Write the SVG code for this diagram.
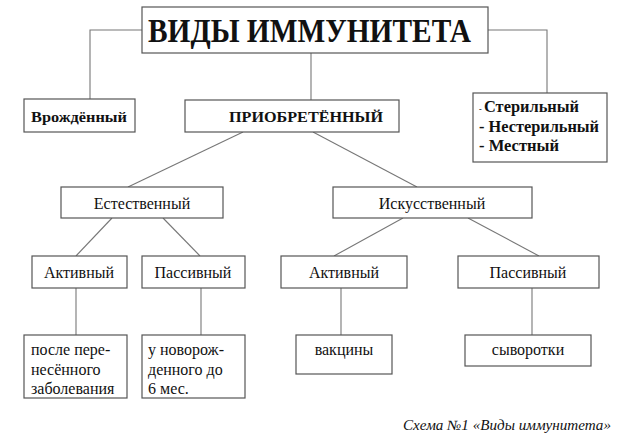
<svg xmlns="http://www.w3.org/2000/svg" width="624" height="438" viewBox="0 0 624 438" font-family="'Liberation Serif','Times New Roman','DejaVu Serif',serif">
<style>
.box{fill:#fff;stroke:#555;stroke-width:1.2}
.ln{fill:none;stroke:#777;stroke-width:1.1}
text{font-family:"Liberation Serif","Times New Roman","DejaVu Serif",serif;fill:#111}
.b{font-weight:bold}
.r{font-size:16px}
.c{text-anchor:middle}
</style>
<rect width="624" height="438" fill="#fff"/>
<g id="connectors">
<path class="ln" d="M142,30H90V99"/>
<path class="ln" d="M488,30H547V93"/>
<path class="ln" d="M311,53V100"/>
<path class="ln" d="M243,132L128,187"/>
<path class="ln" d="M313,132L417,187"/>
<path class="ln" d="M112,218L76,256"/>
<path class="ln" d="M163,218L200,256"/>
<path class="ln" d="M403,218L334,256"/>
<path class="ln" d="M468,218L539,256"/>
<path class="ln" d="M76,288V335"/>
<path class="ln" d="M201,288V335"/>
<path class="ln" d="M341,288V335"/>
<path class="ln" d="M532,288V335"/>
</g>
<g id="title">
<rect class="box" x="142" y="7" width="346" height="46"/>
<text class="b" x="148" y="42" font-size="34" textLength="323" lengthAdjust="spacingAndGlyphs">ВИДЫ ИММУНИТЕТА</text>
</g>
<g id="innate">
<rect class="box" x="24" y="99" width="111" height="33"/>
<text class="b" x="31" y="122" font-size="15" textLength="96" lengthAdjust="spacingAndGlyphs">Врождённый</text>
</g>
<g id="acquired">
<rect class="box" x="185" y="100" width="214" height="32"/>
<text class="b" x="229" y="122" font-size="15" textLength="154" lengthAdjust="spacingAndGlyphs">ПРИОБРЕТЁННЫЙ</text>
</g>
<g id="types">
<rect class="box" x="473" y="93" width="134" height="69"/>
<text class="b" x="479" y="112" font-size="8">-</text>
<text class="b" x="484" y="112" font-size="16" textLength="95" lengthAdjust="spacingAndGlyphs">Стерильный</text>
<text class="b" x="479" y="132" font-size="16" textLength="120" lengthAdjust="spacingAndGlyphs">- Нестерильный</text>
<text class="b" x="479" y="151" font-size="16" textLength="80" lengthAdjust="spacingAndGlyphs">- Местный</text>
</g>
<g id="natural">
<rect class="box" x="61" y="187" width="162" height="31"/>
<text class="r c" x="142" y="209">Естественный</text>
</g>
<g id="artificial">
<rect class="box" x="333" y="187" width="199" height="31"/>
<text class="r c" x="432" y="209">Искусственный</text>
</g>
<g id="nat-active">
<rect class="box" x="32" y="256" width="95" height="32"/>
<text class="r c" x="79" y="278">Активный</text>
</g>
<g id="nat-passive">
<rect class="box" x="142" y="256" width="103" height="32"/>
<text class="r c" x="193" y="278">Пассивный</text>
</g>
<g id="art-active">
<rect class="box" x="281" y="256" width="126" height="32"/>
<text class="r c" x="344" y="278">Активный</text>
</g>
<g id="art-passive">
<rect class="box" x="458" y="256" width="141" height="32"/>
<text class="r c" x="528" y="278">Пассивный</text>
</g>
<g id="after-illness">
<rect class="box" x="24" y="335" width="103" height="63"/>
<text class="r" x="31" y="355">после пере-</text>
<text class="r" x="31" y="375">несённого</text>
<text class="r" x="31" y="394">заболевания</text>
</g>
<g id="newborn">
<rect class="box" x="142" y="335" width="103" height="63"/>
<text class="r" x="148" y="355">у новорож-</text>
<text class="r" x="148" y="375">денного до</text>
<text class="r" x="148" y="394">6 мес.</text>
</g>
<g id="vaccines">
<rect class="box" x="296" y="335" width="96" height="39"/>
<text class="r c" x="344" y="355">вакцины</text>
</g>
<g id="serums">
<rect class="box" x="465" y="335" width="126" height="31"/>
<text class="r c" x="528" y="355">сыворотки</text>
</g>
<text x="403" y="430" font-size="14" font-style="italic" textLength="208" lengthAdjust="spacingAndGlyphs">Схема №1 «Виды иммунитета»</text>
</svg>
